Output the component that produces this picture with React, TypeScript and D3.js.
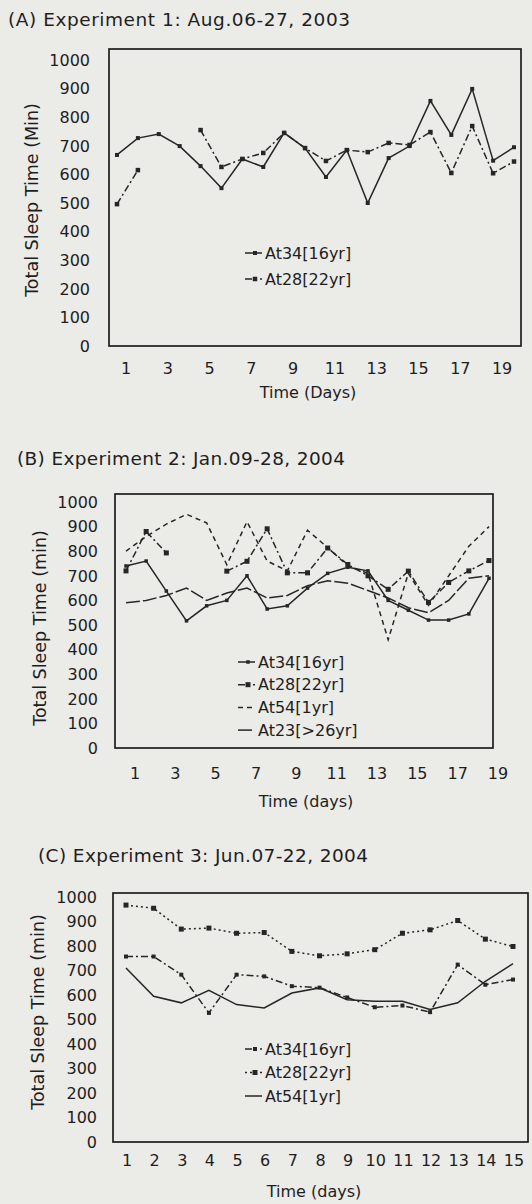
import React from "react";
import * as d3 from "d3";

// ---------- DATA ----------
const yTicks = [0, 100, 200, 300, 400, 500, 600, 700, 800, 900, 1000];

// Panel A: Experiment 1 (Aug.06-27, 2003)
const daysA = [1, 2, 3, 4, 5, 6, 7, 8, 9, 10, 11, 12, 13, 14, 15, 16, 17, 18, 19, 20];
const xTicksA = [1, 3, 5, 7, 9, 11, 13, 15, 17, 19];
const at34A = [668, 727, 741, 699, 629, 552, 654, 626, 745, 692, 591, 685, 500, 657, 699, 857, 738, 899, 648, 695];
const at28A = [496, 615, null, null, 755, 626, 654, 675, 745, 692, 647, 685, 678, 710, 703, 748, 605, 769, 604, 645];

// Panel B: Experiment 2 (Jan.09-28, 2004)
const daysB = [1, 2, 3, 4, 5, 6, 7, 8, 9, 10, 11, 12, 13, 14, 15, 16, 17, 18, 19];
const xTicksB = [1, 3, 5, 7, 9, 11, 13, 15, 17, 19];
const at34B = [740, 760, 638, 517, 578, 600, 700, 565, 578, 650, 710, 735, 720, 600, 560, 520, 520, 545, 690];
const at28B = [720, 880, 793, null, null, 719, 759, 891, 712, 712, 813, 746, 700, 645, 719, 592, 673, 720, 762];
const at54B = [800, 860, 910, 950, 915, 745, 920, 760, 720, 885, 815, 740, 710, 440, 710, 580, 700, 820, 900];
const at23B = [590, 600, 620, 650, 600, 630, 650, 610, 620, 660, 680, 670, 640, 610, 570, 550, 600, 690, 700];

// Panel C: Experiment 3 (Jun.07-22, 2004)
const daysC = [1, 2, 3, 4, 5, 6, 7, 8, 9, 10, 11, 12, 13, 14, 15];
const xTicksC = [1, 2, 3, 4, 5, 6, 7, 8, 9, 10, 11, 12, 13, 14, 15];
const at34C = [757, 757, 683, 527, 683, 676, 636, 630, 590, 550, 557, 530, 724, 642, 663];
const at28C = [967, 954, 869, 873, 852, 855, 778, 760, 768, 785, 852, 866, 904, 828, 798];
const at54C = [710, 595, 568, 619, 561, 547, 608, 629, 581, 574, 574, 541, 568, 656, 728];

// ---------- STYLE ----------
const FONT = "'DejaVu Sans', 'Noto Sans', sans-serif";
const INK = "#1e1e1e";
const LINE = "#262626";

type Series = {
  name: string;
  values: (number | null)[];
  dash?: string;
  marker?: "square" | "circle" | null;
  msize?: number;
};

type PanelProps = {
  title: string;
  titleX: number;
  titleY: number;
  titleW: number;
  box: { left: number; right: number; top: number; bottom: number };
  yTopPx: number;
  days: number[];
  xRange: [number, number];
  xTicks: number[];
  labelDx: number;
  yLabelRight: number;
  xLabelY: number;
  xTitle: string;
  xTitleX: number;
  xTitleY: number;
  yTitle: string;
  yTitleX: number;
  yTitleY: number;
  series: Series[];
  legend: { x: number; y0: number; dy: number };
};

function Marker({ x, y, kind, size }: { x: number; y: number; kind: string; size: number }) {
  if (kind === "circle") return <circle cx={x} cy={y} r={size / 2} fill={LINE} />;
  return <rect x={x - size / 2} y={y - size / 2} width={size} height={size} fill={LINE} />;
}

function Panel(p: PanelProps) {
  const x = d3.scalePoint<number>().domain(p.days).range(p.xRange);
  const y = d3.scaleLinear().domain([0, 1000]).range([p.box.bottom, p.yTopPx]);
  const line = d3
    .line<number | null>()
    .defined((v) => v != null)
    .x((_, i) => x(p.days[i]) as number)
    .y((v) => y(v as number));

  return (
    <g>
      <text
        x={p.titleX}
        y={p.titleY}
        fontFamily={FONT}
        fontSize={18.5}
        fill={INK}
        textLength={p.titleW}
        lengthAdjust="spacing"
      >
        {p.title}
      </text>
      <rect
        x={p.box.left}
        y={p.box.top}
        width={p.box.right - p.box.left}
        height={p.box.bottom - p.box.top}
        fill="none"
        stroke={INK}
        strokeWidth={1.7}
      />
      {yTicks.map((t) => (
        <text
          key={t}
          x={p.yLabelRight}
          y={y(t)}
          dy="0.36em"
          textAnchor="end"
          fontFamily={FONT}
          fontSize={16}
          fill={INK}
        >
          {t}
        </text>
      ))}
      {p.xTicks.map((t) => (
        <text
          key={t}
          x={(x(t) as number) + p.labelDx}
          y={p.xLabelY}
          textAnchor="middle"
          fontFamily={FONT}
          fontSize={16}
          fill={INK}
        >
          {t}
        </text>
      ))}
      <text x={p.xTitleX} y={p.xTitleY} textAnchor="middle" fontFamily={FONT} fontSize={16} fill={INK}>
        {p.xTitle}
      </text>
      <text
        transform={`translate(${p.yTitleX},${p.yTitleY}) rotate(-90)`}
        textAnchor="middle"
        dy="0.36em"
        fontFamily={FONT}
        fontSize={17.5}
        fill={INK}
      >
        {p.yTitle}
      </text>
      {p.series.map((s) => (
        <g key={s.name}>
          <path
            d={line(s.values) || ""}
            fill="none"
            stroke={LINE}
            strokeWidth={1.5}
            strokeDasharray={s.dash}
          />
          {s.marker &&
            s.values.map((v, i) =>
              v == null ? null : (
                <Marker key={i} x={x(p.days[i]) as number} y={y(v)} kind={s.marker as string} size={s.msize || 4} />
              )
            )}
        </g>
      ))}
      {p.series.map((s, i) => {
        const ly = p.legend.y0 + i * p.legend.dy;
        return (
          <g key={"lg" + s.name}>
            <line
              x1={p.legend.x - 20}
              x2={p.legend.x - 3}
              y1={ly}
              y2={ly}
              stroke={LINE}
              strokeWidth={1.5}
              strokeDasharray={s.dash}
            />
            {s.marker && <Marker x={p.legend.x - 10} y={ly} kind={s.marker} size={s.msize || 4} />}
            <text x={p.legend.x} y={ly} dy="0.36em" fontFamily={FONT} fontSize={16} fill={INK}>
              {s.name}
            </text>
          </g>
        );
      })}
    </g>
  );
}

export default function App() {
  return (
    <svg
      width={532}
      height={1204}
      style={{ position: "absolute", left: 0, top: 0, display: "block" }}
    >
      <rect x={0} y={0} width={532} height={1204} fill="#ebebe8" />
      <Panel
        title="(A) Experiment 1:  Aug.06-27, 2003"
        titleX={8}
        titleY={26}
        titleW={342}
        box={{ left: 109, right: 521, top: 49, bottom: 346 }}
        yTopPx={60}
        days={daysA}
        xRange={[117, 514]}
        xTicks={xTicksA}
        labelDx={9}
        yLabelRight={90}
        xLabelY={374}
        xTitle="Time (Days)"
        xTitleX={308}
        xTitleY={398}
        yTitle="Total Sleep Time (Min)"
        yTitleX={32}
        yTitleY={200}
        series={[
          { name: "At34[16yr]", values: at34A, marker: "square", msize: 4 },
          { name: "At28[22yr]", values: at28A, dash: "7,3,2,3", marker: "square", msize: 4.5 },
        ]}
        legend={{ x: 265, y0: 253, dy: 26 }}
      />
      <Panel
        title="(B) Experiment 2: Jan.09-28, 2004"
        titleX={17}
        titleY={465}
        titleW={328}
        box={{ left: 115, right: 493, top: 494, bottom: 748 }}
        yTopPx={502}
        days={daysB}
        xRange={[126, 489]}
        xTicks={xTicksB}
        labelDx={9}
        yLabelRight={98}
        xLabelY={779}
        xTitle="Time (days)"
        xTitleX={306}
        xTitleY={807}
        yTitle="Total Sleep Time (min)"
        yTitleX={40}
        yTitleY={628}
        series={[
          { name: "At34[16yr]", values: at34B, marker: "square", msize: 3.5 },
          { name: "At28[22yr]", values: at28B, dash: "7,3,2,3", marker: "square", msize: 5 },
          { name: "At54[1yr]", values: at54B, dash: "5,4" },
          { name: "At23[>26yr]", values: at23B, dash: "14,3" },
        ]}
        legend={{ x: 258, y0: 662, dy: 22.7 }}
      />
      <Panel
        title="(C) Experiment 3: Jun.07-22, 2004"
        titleX={38}
        titleY={862}
        titleW={330}
        box={{ left: 113, right: 528, top: 893, bottom: 1142 }}
        yTopPx={897}
        days={daysC}
        xRange={[126, 513]}
        xTicks={xTicksC}
        labelDx={1}
        yLabelRight={97}
        xLabelY={1166}
        xTitle="Time (days)"
        xTitleX={314}
        xTitleY={1197}
        yTitle="Total Sleep Time (min)"
        yTitleX={38}
        yTitleY={1012}
        series={[
          { name: "At34[16yr]", values: at34C, dash: "7,3,2,3", marker: "square", msize: 4 },
          { name: "At28[22yr]", values: at28C, dash: "2,3", marker: "square", msize: 5 },
          { name: "At54[1yr]", values: at54C },
        ]}
        legend={{ x: 265, y0: 1049, dy: 23.5 }}
      />
    </svg>
  );
}
